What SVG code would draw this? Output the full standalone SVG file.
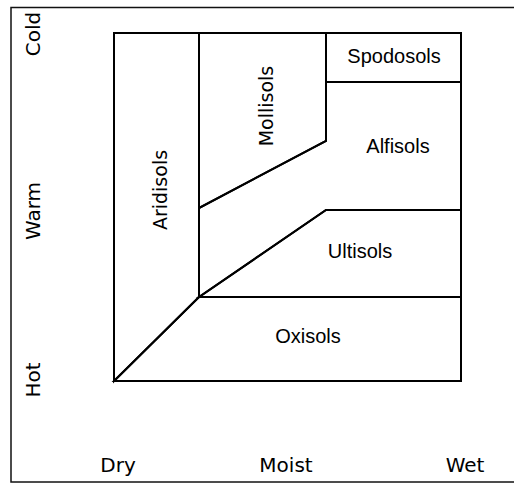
<svg xmlns="http://www.w3.org/2000/svg" width="514" height="483" viewBox="0 0 514 483">
<style>
.region{fill:none;stroke:#000;stroke-width:2;stroke-linejoin:miter}
.soil{font-family:"Liberation Sans",Arial,sans-serif;font-size:20px;fill:#000;text-anchor:middle}
.soilv{font-family:"DejaVu Sans",Verdana,sans-serif;font-size:19px;fill:#000;text-anchor:middle}
.axis{font-family:"DejaVu Sans",Verdana,sans-serif;font-size:20px;fill:#000;text-anchor:middle}
.frame{fill:none;stroke:#111;stroke-width:1.5}
</style>
<rect width="514" height="483" fill="#fff"/>
<rect class="frame" x="11" y="7.5" width="520" height="474.5"/>
<g id="axes">
<text class="axis" transform="translate(40,34) rotate(-90)">Cold</text>
<text class="axis" transform="translate(40,211) rotate(-90)">Warm</text>
<text class="axis" transform="translate(40,380) rotate(-90)">Hot</text>
<text class="axis" x="118" y="472">Dry</text>
<text class="axis" x="286" y="472">Moist</text>
<text class="axis" x="465" y="472">Wet</text>
</g>
<g id="aridisols">
<polygon class="region" points="114,33 199,33 199,297 114,381"/>
<text class="soilv" transform="translate(167,190) rotate(-90)">Aridisols</text>
</g>
<g id="mollisols">
<polygon class="region" points="199,33 326,33 326,141 199,208"/>
<text class="soilv" transform="translate(273,106) rotate(-90)">Mollisols</text>
</g>
<g id="spodosols">
<polygon class="region" points="326,33 461,33 461,82 326,82"/>
<text class="soil" x="394" y="63">Spodosols</text>
</g>
<g id="alfisols">
<polygon class="region" points="326,82 461,82 461,210 326,210 199,297 199,208 326,141"/>
<text class="soil" x="398" y="153">Alfisols</text>
</g>
<g id="ultisols">
<polygon class="region" points="326,210 461,210 461,297 199,297"/>
<text class="soil" x="360" y="258">Ultisols</text>
</g>
<g id="oxisols">
<polygon class="region" points="199,297 461,297 461,381 114,381"/>
<text class="soil" x="308" y="343">Oxisols</text>
</g>
<g id="connectors"></g>
</svg>
